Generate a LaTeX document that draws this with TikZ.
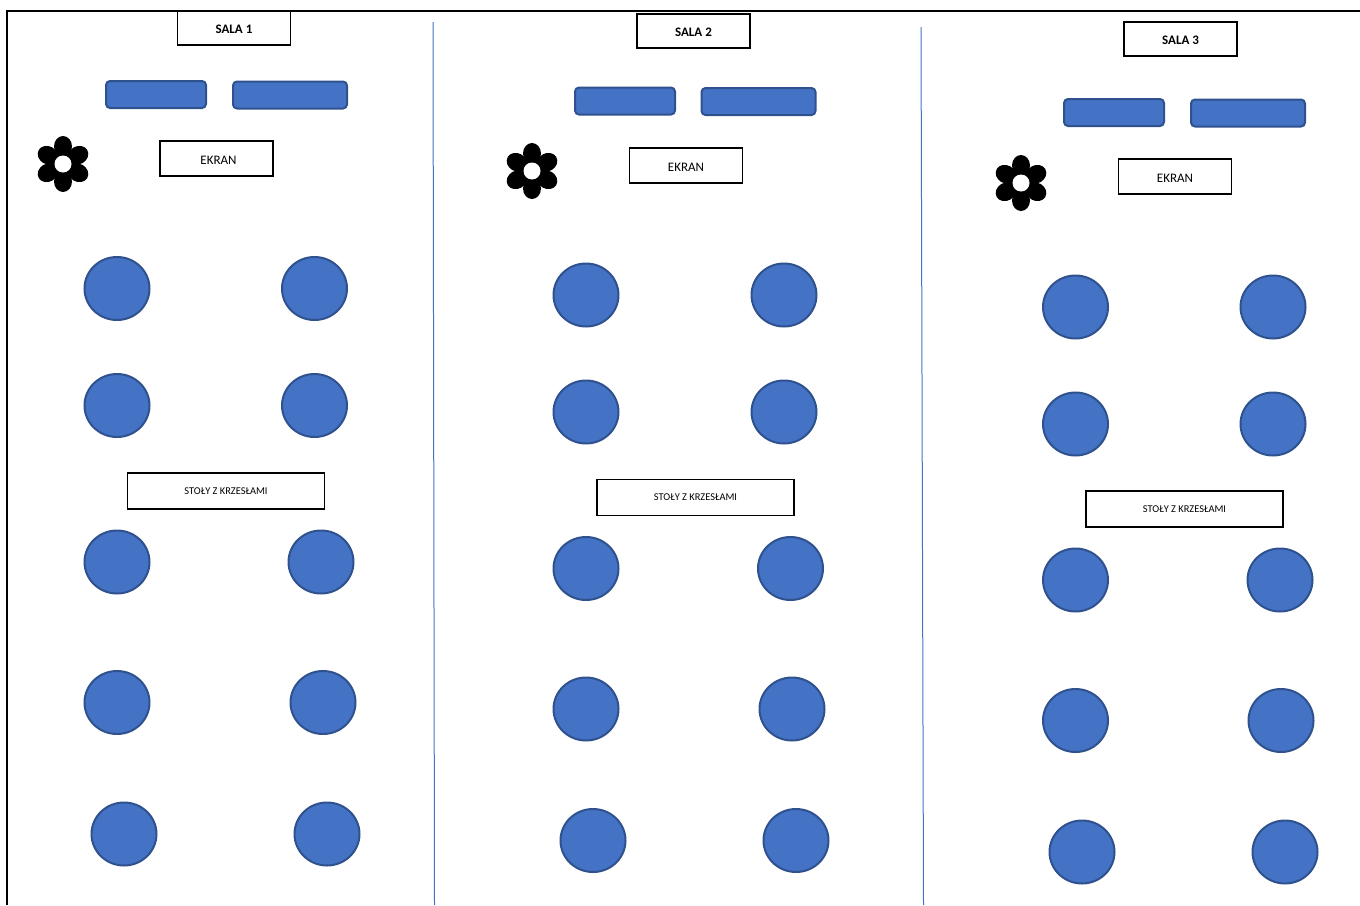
\documentclass[tikz,border=0pt]{standalone}
\usepackage{fontspec}
\setmainfont{Carlito}
\definecolor{TableBlue}{HTML}{4472C4}
\definecolor{TableEdge}{HTML}{2F528F}
\usetikzlibrary{shapes.geometric}
\tikzset{
  labelbox/.style={draw=black, line width=1.8pt, fill=white, align=center, inner sep=0pt},
  roombox/.style={labelbox, minimum width=113pt, minimum height=34pt, text height=11.5pt, text depth=0pt, font=\fontsize{13}{15}\selectfont\bfseries},
  screenbox/.style={labelbox, minimum width=113pt, minimum height=35pt, text height=11.5pt, text depth=0pt, font=\fontsize{13}{15}\selectfont},
  tablesbox/.style={labelbox, minimum width=197pt, minimum height=36pt, font=\fontsize{10.4}{12}\selectfont},
  panel/.style={draw=TableEdge, line width=2pt, fill=TableBlue, rounded corners=4pt, minimum height=27pt, inner sep=0pt},
  smallpanel/.style={panel, minimum width=100pt},
  widepanel/.style={panel, minimum width=114pt},
  tablenode/.style={ellipse, draw=TableEdge, line width=2pt, fill=TableBlue, minimum width=65pt, minimum height=63pt, inner sep=0pt},
  divider/.style={draw=TableBlue, line width=1pt},
  flower/.pic={
    \foreach \a in {30,90,150,210,270,330}
      \fill[black, rotate=\a] (17.5pt,0) ellipse[x radius=10.5pt, y radius=9pt];
    \fill[black] (0,0) circle[radius=13pt];
    \fill[white] (0,0) circle[radius=8.5pt];
  }
}
\begin{document}
\begin{tikzpicture}[x=1pt, y=-1pt]
\useasboundingbox (0,0) rectangle (1360,905);

% frame and dividers
\coordinate (fb) at (7,905);
\coordinate (fc) at (7,11);
\coordinate (fe) at (1360,11);
\draw[black, line width=1.8pt] (fb) -- (fc) -- (fe);
\coordinate (d1t) at (433,22);
\coordinate (d1b) at (434.5,905);
\coordinate (d2t) at (921,27);
\coordinate (d2b) at (923.5,905);
\draw[divider] (d1t) -- (d1b);
\draw[divider] (d2t) -- (d2b);

% room 1
\node[roombox] (sala1) at (234,28) {SALA 1};
\node[smallpanel] (p1a) at (156,94.5) {};
\node[widepanel] (p1b) at (290,95) {};
\node[screenbox] (ekran1) at (216.5,158.5) {\hspace*{4pt}EKRAN};
\pic at (63,164) {flower};
\node[tablenode] (t1a) at (117,288.5) {};
\node[tablenode] (t1b) at (314.5,288.5) {};
\node[tablenode] (t1c) at (117,405.5) {};
\node[tablenode] (t1d) at (314.5,405.5) {};
\node[tablesbox] (stoly1) at (226,491) {STOŁY Z KRZESŁAMI};
\node[tablenode] (t1e) at (117,562) {};
\node[tablenode] (t1f) at (321,562) {};
\node[tablenode] (t1g) at (117,702.5) {};
\node[tablenode] (t1h) at (323,702.5) {};
\node[tablenode] (t1i) at (124,834) {};
\node[tablenode] (t1j) at (327,834) {};

% room 2
\node[roombox] (sala2) at (693.5,31) {SALA 2};
\node[smallpanel] (p2a) at (625,101) {};
\node[widepanel] (p2b) at (758.5,101.5) {};
\node[screenbox] (ekran2) at (686,165.5) {EKRAN};
\pic at (532,171) {flower};
\node[tablenode] (t2a) at (586,295) {};
\node[tablenode] (t2b) at (784,295) {};
\node[tablenode] (t2c) at (586,412) {};
\node[tablenode] (t2d) at (784,412) {};
\node[tablesbox] (stoly2) at (695.5,497.5) {STOŁY Z KRZESŁAMI};
\node[tablenode] (t2e) at (586,568.5) {};
\node[tablenode] (t2f) at (790.5,568.5) {};
\node[tablenode] (t2g) at (586,709) {};
\node[tablenode] (t2h) at (792,709) {};
\node[tablenode] (t2i) at (593,840.5) {};
\node[tablenode] (t2j) at (796,840.5) {};

% room 3
\node[roombox] (sala3) at (1180.5,39) {SALA 3};
\node[smallpanel] (p3a) at (1114,112.5) {};
\node[widepanel] (p3b) at (1248,113) {};
\node[screenbox] (ekran3) at (1175,176.5) {EKRAN};
\pic at (1021,183) {flower};
\node[tablenode] (t3a) at (1075.5,307) {};
\node[tablenode] (t3b) at (1273,307) {};
\node[tablenode] (t3c) at (1075.5,424) {};
\node[tablenode] (t3d) at (1273,424) {};
\node[tablesbox] (stoly3) at (1184.5,509) {STOŁY Z KRZESŁAMI};
\node[tablenode] (t3e) at (1075.5,580) {};
\node[tablenode] (t3f) at (1280,580) {};
\node[tablenode] (t3g) at (1075.5,720.5) {};
\node[tablenode] (t3h) at (1281,720.5) {};
\node[tablenode] (t3i) at (1082,852) {};
\node[tablenode] (t3j) at (1285,852) {};
\end{tikzpicture}
\end{document}
